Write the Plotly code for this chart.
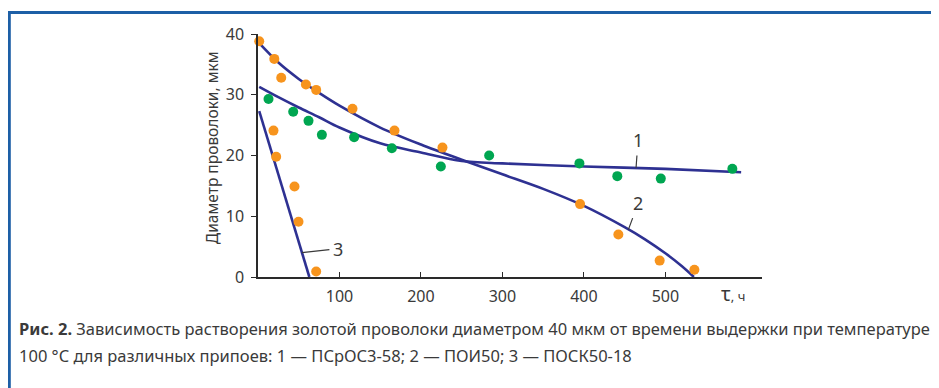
import plotly.graph_objects as go

# ---- data ----
# series 1 (green points) and its fitted curve
s1_x = [-1.5, 12.9, 43.2, 62.0, 78.4, 118.0, 164.3, 224.4, 283.7, 394.5, 441.0, 494.4, 582.2]
s1_y = [32.0, 29.3, 27.2, 25.7, 23.4, 23.0, 21.2, 18.2, 20.0, 18.7, 16.6, 16.2, 17.8]
c1_x = [1.5, 25, 50, 75, 100, 150, 200, 250, 300, 400, 500, 593]
c1_y = [31.3, 29.6, 27.9, 26.3, 24.6, 22.0, 20.5, 19.1, 18.7, 18.2, 17.8, 17.25]

# series 2 (orange points) and its fitted curve
s2_x = [1.5, 20.0, 28.5, 58.8, 71.4, 116.0, 167.5, 226.4, 395.3, 442.3, 493.0, 535.6]
s2_y = [38.8, 35.9, 32.8, 31.7, 30.8, 27.7, 24.1, 21.3, 12.0, 7.0, 2.7, 1.2]
c2_x = [1.5, 25, 50, 75, 100, 150, 200, 250, 300, 350, 400, 450, 475, 500, 520, 535]
c2_y = [38.5, 35.3, 32.6, 30.3, 28.2, 24.6, 21.8, 19.3, 16.9, 14.5, 11.7, 8.2, 6.2, 3.9, 1.8, 0.0]

# series 3 (orange points) and its fitted line
s3_x = [19.0, 22.3, 44.8, 49.7, 71.4]
s3_y = [24.1, 19.8, 14.9, 9.1, 0.9]
c3_x = [1.5, 63.0]
c3_y = [27.3, 0.0]

x_ticks = [100, 200, 300, 400, 500]
y_ticks = [0, 10, 20, 30, 40]

y_title = "Диаметр проволоки, мкм"
caption1 = "<b>Рис. 2.</b> Зависимость растворения золотой проволоки диаметром 40 мкм от времени выдержки при температуре"
caption2 = "100 °C для различных припоев: 1 — ПСрОС3-58; 2 — ПОИ50; 3 — ПОСК50-18"

# ---- styling ----
FONT = "Noto Sans"
TXT = "#3a3a3a"
NAVY = "#2e3192"
ORANGE = "#f7941d"
GREEN = "#00a651"
FRAME = "#1d5fa6"

OFF = 8                     # page offset of the figure inside the window
W, H = 939, 388
X0, X1 = 258 - OFF, 762 - OFF   # plot area in figure px
YT, YB = 34 - OFF, 276.7 - OFF

def px(xp):
    """reference window px -> paper x"""
    return (xp - OFF - X0) / (X1 - X0)

def py(yp):
    """reference window px -> paper y"""
    return (YB - (yp - OFF)) / (YB - YT)

fig = go.Figure()

for cx, cy in [(c1_x, c1_y), (c2_x, c2_y), (c3_x, c3_y)]:
    fig.add_trace(go.Scatter(x=cx, y=cy, mode="lines", line=dict(color=NAVY, width=2.6, shape="spline", smoothing=0.9),
                             hoverinfo="skip", cliponaxis=False))

fig.add_trace(go.Scatter(x=s1_x, y=s1_y, mode="markers", marker=dict(color=GREEN, size=10), cliponaxis=False))
fig.add_trace(go.Scatter(x=s2_x, y=s2_y, mode="markers", marker=dict(color=ORANGE, size=10), cliponaxis=False))
fig.add_trace(go.Scatter(x=s3_x, y=s3_y, mode="markers", marker=dict(color=ORANGE, size=10), cliponaxis=False))

annotations = []
# curve labels with leader lines
for txt, xv, yv, ax, ay in [("1", 464, 17.95, 2, -28), ("2", 454.6, 7.8, 10, -27), ("3", 53.9, 4.0, 36, -4)]:
    annotations.append(dict(x=xv, y=yv, xref="x", yref="y", text=txt, showarrow=True, arrowhead=0,
                            arrowwidth=1.2, arrowcolor=TXT, ax=ax, ay=ay, standoff=0, borderpad=3,
                            font=dict(family=FONT, size=18, color=TXT)))
# x axis title
annotations.append(dict(x=px(719), y=py(293), xref="paper", yref="paper", xanchor="left", yanchor="middle",
                        text="τ<span style='font-size:13px'>, ч</span>", showarrow=False,
                        font=dict(family=FONT, size=20, color=TXT)))
# y axis title
annotations.append(dict(x=px(212), y=py(148), xref="paper", yref="paper", xanchor="center", yanchor="middle",
                        text=y_title, textangle=-90, showarrow=False,
                        font=dict(family=FONT, size=15.5, color=TXT)))
# caption
annotations.append(dict(x=px(17), y=py(328), xref="paper", yref="paper", xanchor="left", yanchor="middle",
                        text=caption1, showarrow=False, font=dict(family=FONT, size=16.5, color=TXT)))
annotations.append(dict(x=px(17), y=py(355), xref="paper", yref="paper", xanchor="left", yanchor="middle",
                        text=caption2, showarrow=False, font=dict(family=FONT, size=16.5, color=TXT)))

shapes = [
    dict(type="line", xref="paper", yref="paper", x0=px(8), x1=px(W + 20), y0=py(12.5), y1=py(12.5),
         line=dict(color=FRAME, width=3)),
    dict(type="line", xref="paper", yref="paper", x0=px(9.3), x1=px(9.3), y0=py(11), y1=py(H + 20),
         line=dict(color=FRAME, width=3)),
]

fig.update_layout(
    width=W, height=H,
    margin=dict(l=X0, r=W - X1, t=YT, b=H - YB),
    paper_bgcolor="white", plot_bgcolor="white",
    showlegend=False,
    font=dict(family=FONT, color=TXT),
    annotations=annotations,
    shapes=shapes,
)
fig.update_xaxes(range=[0, 618.6], tickvals=x_ticks, ticktext=[str(v) for v in x_ticks],
                 showgrid=False, zeroline=False, showline=True, linecolor="#2a2a2a", linewidth=1.5,
                 ticks="inside", ticklen=5, tickwidth=1.2, tickcolor="#2a2a2a",
                 tickfont=dict(family=FONT, size=16, color=TXT), ticklabelstandoff=4)
fig.update_yaxes(range=[0, 40], tickvals=y_ticks, ticktext=[str(v) for v in y_ticks],
                 showgrid=False, zeroline=False, showline=True, linecolor="#2a2a2a", linewidth=1.5,
                 ticks="outside", ticklen=5, tickwidth=1.2, tickcolor="#2a2a2a",
                 tickfont=dict(family=FONT, size=16, color=TXT), ticklabelstandoff=4)

fig.write_html("out.html")
